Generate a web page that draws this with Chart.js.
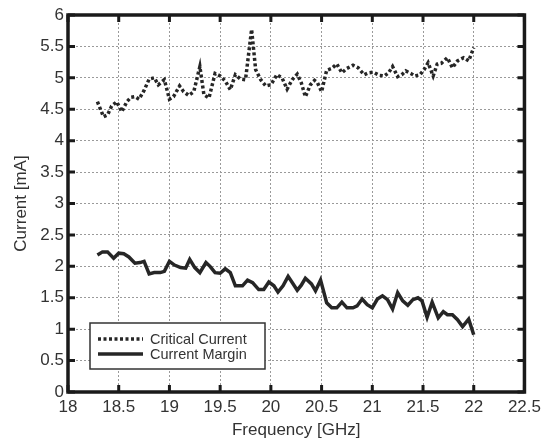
<!DOCTYPE html>
<html>
<head>
<meta charset="utf-8">
<script src="https://cdn.jsdelivr.net/npm/chart.js@4/dist/chart.umd.min.js"></script>
<style>
    html, body { margin: 0; padding: 0; background: #ffffff; }
    #wrap { width: 546px; height: 441px; position: relative; }
</style>
</head>
<body>
<div id="wrap"><canvas id="chart" width="546" height="441"></canvas></div>
<script>
// Critical current (dotted line)
const critFreq = [18.29, 18.35, 18.39, 18.43, 18.48, 18.53, 18.58, 18.62, 18.66, 18.70,
    18.75, 18.80, 18.85, 18.89, 18.95, 19.00, 19.04, 19.10, 19.14, 19.19,
    19.24, 19.30, 19.34, 19.39, 19.45, 19.50, 19.55, 19.60, 19.65, 19.70,
    19.75, 19.81, 19.85, 19.90, 19.95, 20.00, 20.06, 20.11, 20.16, 20.21,
    20.26, 20.30, 20.34, 20.39, 20.43, 20.46, 20.50, 20.55, 20.60, 20.65,
    20.70, 20.75, 20.81, 20.86, 20.92, 20.96, 21.01, 21.07, 21.12, 21.16,
    21.20, 21.25, 21.29, 21.33, 21.38, 21.42, 21.47, 21.51, 21.55, 21.60,
    21.64, 21.68, 21.74, 21.79, 21.84, 21.90, 21.95, 22.00];
const critCurrent = [4.62, 4.38, 4.41, 4.55, 4.62, 4.46, 4.62, 4.69, 4.70, 4.66,
    4.80, 4.98, 5.00, 4.89, 4.97, 4.66, 4.70, 4.87, 4.78, 4.72,
    4.78, 5.18, 4.73, 4.68, 5.07, 5.03, 4.95, 4.81, 5.05, 4.98,
    4.97, 5.77, 5.13, 4.97, 4.87, 4.89, 5.05, 5.00, 4.82, 4.97,
    5.06, 4.92, 4.70, 4.89, 4.96, 4.92, 4.78, 5.12, 5.15, 5.22,
    5.08, 5.15, 5.20, 5.16, 5.05, 5.08, 5.09, 5.04, 5.03, 5.08,
    5.18, 5.02, 5.05, 5.11, 5.07, 5.03, 5.05, 5.13, 5.24, 5.03,
    5.22, 5.23, 5.32, 5.16, 5.27, 5.32, 5.27, 5.48];

// Current margin (solid line)
const marginFreq = [18.29, 18.34, 18.39, 18.45, 18.50, 18.55, 18.60, 18.66, 18.71, 18.75,
    18.80, 18.85, 18.91, 18.95, 19.00, 19.05, 19.11, 19.16, 19.20, 19.25,
    19.30, 19.36, 19.40, 19.45, 19.50, 19.55, 19.60, 19.65, 19.72, 19.77,
    19.82, 19.88, 19.93, 19.98, 20.03, 20.07, 20.12, 20.17, 20.22, 20.26,
    20.30, 20.34, 20.40, 20.44, 20.49, 20.55, 20.60, 20.65, 20.70, 20.75,
    20.81, 20.85, 20.90, 20.95, 21.00, 21.05, 21.10, 21.15, 21.20, 21.25,
    21.30, 21.35, 21.40, 21.45, 21.49, 21.54, 21.59, 21.65, 21.70, 21.74,
    21.79, 21.84, 21.89, 21.95, 22.00];
const marginCurrent = [2.18, 2.23, 2.23, 2.13, 2.21, 2.20, 2.15, 2.05, 2.06, 2.08,
    1.88, 1.90, 1.90, 1.92, 2.08, 2.02, 1.98, 1.97, 2.11, 1.98,
    1.90, 2.06, 2.00, 1.90, 1.89, 1.96, 1.90, 1.69, 1.69, 1.78,
    1.74, 1.63, 1.63, 1.75, 1.69, 1.59, 1.69, 1.84, 1.72, 1.62,
    1.70, 1.81, 1.72, 1.61, 1.78, 1.42, 1.34, 1.34, 1.43, 1.34,
    1.34, 1.37, 1.48, 1.39, 1.34, 1.48, 1.53, 1.47, 1.32, 1.58,
    1.45, 1.38, 1.47, 1.50, 1.45, 1.19, 1.43, 1.18, 1.28, 1.23,
    1.23, 1.15, 1.04, 1.16, 0.91];

const xTicks = [18, 18.5, 19, 19.5, 20, 20.5, 21, 21.5, 22, 22.5];
const yTicks = [0, 0.5, 1, 1.5, 2, 2.5, 3, 3.5, 4, 4.5, 5, 5.5, 6];

const seriesNames = ["Critical Current", "Current Margin"];

const textColor = "#333333";
const fontFamily = "'Liberation Sans', Arial, sans-serif";

function toPoints(xs, ys) {
    return xs.map((x, i) => ({ x: x, y: ys[i] }));
}

// frame, inward tick marks and boxed legend
const framePlugin = {
    id: "frame",
    afterDraw(chart) {
        const ctx = chart.ctx;
        const a = chart.chartArea;
        const xs = chart.scales.x;
        const ys = chart.scales.y;
        ctx.save();
        ctx.strokeStyle = "#1a1a1a";
        ctx.lineCap = "butt";

        // inward ticks
        ctx.lineWidth = 3;
        xTicks.forEach(v => {
            const px = xs.getPixelForValue(v);
            ctx.beginPath();
            ctx.moveTo(px, a.bottom); ctx.lineTo(px, a.bottom - 7);
            ctx.moveTo(px, a.top); ctx.lineTo(px, a.top + 7);
            ctx.stroke();
        });
        yTicks.forEach(v => {
            const py = ys.getPixelForValue(v);
            ctx.beginPath();
            ctx.moveTo(a.left, py); ctx.lineTo(a.left + 7, py);
            ctx.moveTo(a.right, py); ctx.lineTo(a.right - 7, py);
            ctx.stroke();
        });

        // frame
        ctx.lineWidth = 3.5;
        ctx.strokeRect(a.left, a.top, a.right - a.left, a.bottom - a.top);

        // legend
        const bx = a.left + 22, by = a.bottom - 69, bw = 175, bh = 46;
        ctx.fillStyle = "#ffffff";
        ctx.fillRect(bx, by, bw, bh);
        ctx.lineWidth = 1.5;
        ctx.strokeStyle = "#333333";
        ctx.strokeRect(bx, by, bw, bh);

        chart.data.datasets.forEach((ds, i) => {
            const cy = by + 16 + i * 15;
            ctx.beginPath();
            ctx.strokeStyle = ds.borderColor;
            ctx.lineWidth = ds.borderWidth;
            ctx.setLineDash(ds.borderDash || []);
            ctx.moveTo(bx + 8, cy);
            ctx.lineTo(bx + 53, cy);
            ctx.stroke();
            ctx.setLineDash([]);
            ctx.fillStyle = textColor;
            ctx.font = "14.5px " + fontFamily;
            ctx.textBaseline = "middle";
            ctx.textAlign = "left";
            ctx.fillText(ds.label, bx + 60, cy + 1);
        });
        ctx.restore();
    }
};

new Chart(document.getElementById("chart"), {
    type: "line",
    data: {
        datasets: [
            {
                label: seriesNames[0],
                data: toPoints(critFreq, critCurrent),
                borderColor: "#262626",
                borderWidth: 3.5,
                borderDash: [3, 2.5],
                pointRadius: 0,
                tension: 0,
                fill: false
            },
            {
                label: seriesNames[1],
                data: toPoints(marginFreq, marginCurrent),
                borderColor: "#262626",
                borderWidth: 3.5,
                pointRadius: 0,
                tension: 0,
                fill: false
            }
        ]
    },
    options: {
        responsive: false,
        animation: false,
        layout: { padding: { top: 15, right: 19, left: 11, bottom: 0 } },
        plugins: {
            legend: { display: false },
            tooltip: { enabled: false }
        },
        scales: {
            x: {
                type: "linear",
                min: 18,
                max: 22.5,
                afterBuildTicks: scale => { scale.ticks = xTicks.map(v => ({ value: v })); },
                afterFit: scale => { scale.height = 49; },
                ticks: {
                    color: textColor,
                    font: { size: 17, family: fontFamily },
                    padding: 5,
                    maxRotation: 0,
                    autoSkip: false,
                    callback: v => String(v)
                },
                grid: { color: "#9a9a9a", lineWidth: 1, drawTicks: false },
                border: { display: false, dash: [2, 2] },
                title: {
                    display: true,
                    text: "Frequency [GHz]",
                    color: textColor,
                    font: { size: 17, family: fontFamily },
                    padding: { top: 0, bottom: 0 }
                }
            },
            y: {
                type: "linear",
                min: 0,
                max: 6,
                afterBuildTicks: scale => { scale.ticks = yTicks.map(v => ({ value: v })); },
                afterFit: scale => { scale.width = 57; },
                ticks: {
                    color: textColor,
                    font: { size: 17, family: fontFamily },
                    padding: 4,
                    autoSkip: false,
                    callback: v => String(v)
                },
                grid: { color: "#9a9a9a", lineWidth: 1, drawTicks: false },
                border: { display: false, dash: [2, 2] },
                title: {
                    display: true,
                    text: "Current [mA]",
                    color: textColor,
                    font: { size: 17, family: fontFamily },
                    padding: { top: 0, bottom: 4 }
                }
            }
        }
    },
    plugins: [framePlugin]
});
</script>
</body>
</html>
